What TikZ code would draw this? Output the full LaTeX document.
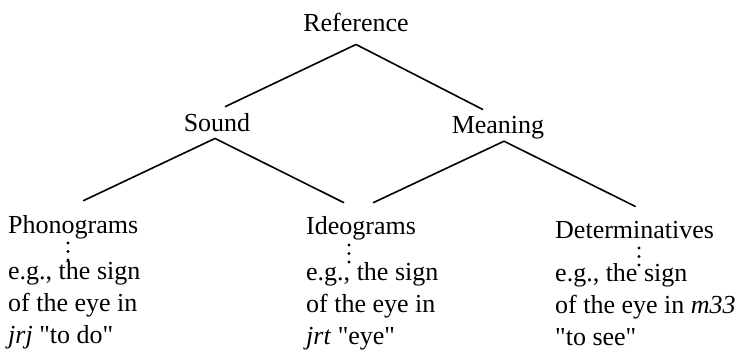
\documentclass[tikz,border=0pt]{standalone}
\usepackage{fontspec}
\setmainfont{Liberation Serif}
\usetikzlibrary{positioning}
\newcommand{\sq}{\textquotedbl}
\tikzset{
  term/.style={
    inner sep=0pt, anchor=base,
    font=\fontsize{26}{32}\selectfont
  },
  leaf/.style={term, anchor=base west},
  example/.style={leaf, align=left},
  branch/.style={line width=1.6pt, draw=black},
  ellip/.style={line width=3.4pt, line cap=round, dash pattern=on 0pt off 8.5pt}
}

\begin{document}
\begin{tikzpicture}[x=1pt, y=-1pt]
        \useasboundingbox (0,0) rectangle (743,351);
        \node[term] (ref) at (356,31) {Reference};
        \node[term] (snd) at (217,131) {Sound};
        \node[term] (mng) at (498,133) {Meaning};
        \node[leaf] (pho) at (8,233) {Phonograms};
        \node[leaf] (ideo) at (306,234) {Ideograms};
        \node[leaf] (det) at (555,238) {Determinatives};
        \node[example] (phoex) at ([yshift=-110pt]pho.base west) {e.g., the sign\\of the eye in\\\textit{jrj} \sq to do\sq};
        \node[example] (ideoex) at ([yshift=-110pt]ideo.base west) {e.g., the sign\\of the eye in\\\textit{jrt} \sq eye\sq};
        \node[example] (detex) at ([yshift=-107pt]det.base west) {e.g., the sign\\of the eye in \textit{m33}\\\sq to see\sq};
        \draw[branch] ([yshift=-13pt]ref.south) -- ([xshift=8pt,yshift=6pt]snd.north);
        \draw[branch] ([yshift=-13pt]ref.south) -- ([xshift=-15pt,yshift=6pt]mng.north);
        \draw[branch] ([xshift=-2pt,yshift=-7pt]snd.south) -- ([xshift=10pt,yshift=14pt]pho.north);
        \draw[branch] ([xshift=-2pt,yshift=-7pt]snd.south) -- ([xshift=-17pt,yshift=13pt]ideo.north);
        \draw[branch] ([xshift=6pt,yshift=-2.4pt]mng.south) -- ([xshift=12pt,yshift=13pt]ideo.north);
        \draw[branch] ([xshift=6pt,yshift=-2.4pt]mng.south) -- ([xshift=1pt,yshift=14pt]det.north);
        \draw[ellip] (pho.base west) ++(60,10) -- ++(0,17.5);
        \draw[ellip] (ideo.base west) ++(43,11) -- ++(0,17.5);
        \draw[ellip] (det.base west) ++(84,10) -- ++(0,17.5);
      \end{tikzpicture}
\end{document}
